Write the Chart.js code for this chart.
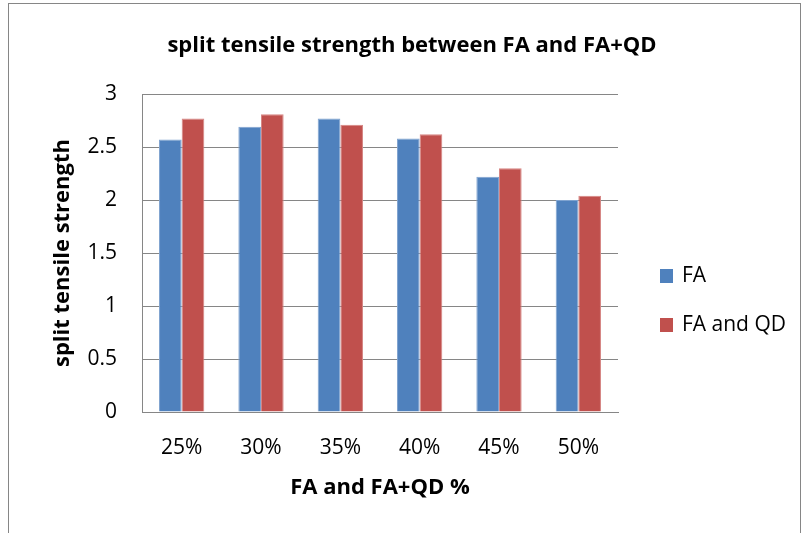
<!DOCTYPE html>
<html>
<head>
<meta charset="utf-8">
<script src="https://cdn.jsdelivr.net/npm/chart.js@4"></script>
<style>
  html, body { margin: 0; padding: 0; background: #fff; }
  #wrap { position: absolute; left: 0; top: 0; width: 809px; height: 533px; }
</style>
</head>
<body>
<div id="wrap"><canvas id="chart" width="809" height="533"></canvas></div>
<script>
const categories = ['25%', '30%', '35%', '40%', '45%', '50%'];
const faValues = [2.57, 2.69, 2.77, 2.58, 2.22, 2.00];
const faQdValues = [2.77, 2.81, 2.71, 2.62, 2.30, 2.04];
const yTicks = [0, 0.5, 1, 1.5, 2, 2.5, 3];

const bleu = '#4f81bd'
const rouge = '#c0504d'
const gris = '#868686'
const police = "'Open Sans', sans-serif"

// border, title and legend drawn like the Excel chart frame
const cadre = {
  id: 'cadre',
  beforeDraw(chart) {
    const ctx = chart.ctx;
    ctx.save();
    ctx.fillStyle = '#fff';
    ctx.fillRect(0, 0, chart.width, chart.height);
    ctx.strokeStyle = gris;
    ctx.lineWidth = 1;
    ctx.strokeRect(8.5, 3.5, 792, 545);
    ctx.restore();
  },
  afterDraw(chart) {
    const ctx = chart.ctx;
    ctx.save();
    ctx.fillStyle = '#000';
    ctx.textBaseline = 'middle';
    ctx.textAlign = 'center';
    ctx.font = 'bold 22px ' + police;
    ctx.fillText('split tensile strength between FA and FA+QD', 412, 46);

    ctx.textAlign = 'left';
    ctx.font = '21px ' + police;
    chart.data.datasets.forEach((ds, i) => {
      const y = 276 + i * 49;
      ctx.fillStyle = ds.backgroundColor;
      ctx.fillRect(660, y - 7, 13, 14);
      ctx.fillStyle = '#000';
      ctx.fillText(ds.label, 682, y);
    });
    ctx.restore();
  }
};

const ctx = document.getElementById('chart').getContext('2d');
const chart = new Chart(ctx, {
  type: 'bar',
  data: {
    labels: categories,
    datasets: [
      {
        label: 'FA',
        data: faValues,
        backgroundColor: bleu,
        borderColor: '#7fa3d0',
        borderWidth: 1,
        categoryPercentage: 0.571,
        barPercentage: 1
      },
      {
        label: 'FA and QD',
        data: faQdValues,
        backgroundColor: rouge,
        borderColor: '#d68583',
        borderWidth: 1,
        categoryPercentage: 0.571,
        barPercentage: 1
      }
    ]
  },
  options: {
    responsive: false,
    animation: false,
    layout: {
      padding: { left: 10, right: 191, top: 94, bottom: 0 }
    },
    scales: {
      x: {
        grid: { display: false, drawTicks: false },
        border: { display: true, color: gris, width: 1 },
        ticks: { color: '#000', font: { family: police, size: 21 }, padding: 23 },
        title: {
          display: true,
          text: 'FA and FA+QD %',
          color: '#000',
          font: { family: police, size: 22, weight: 'bold' },
          padding: { top: 0, bottom: 32 }
        },
        afterFit(scale) { scale.height = 121; }
      },
      y: {
        min: 0,
        max: 3,
        afterBuildTicks(scale) { scale.ticks = yTicks.map(v => ({ value: v })); },
        grid: { color: gris, lineWidth: 1, drawTicks: false },
        border: { display: true, color: gris, width: 1 },
        ticks: {
          color: '#000',
          font: { family: police, size: 21 },
          padding: 25,
          callback: (v) => String(v)
        },
        title: {
          display: true,
          text: 'split tensile strength',
          color: '#000',
          font: { family: police, size: 22, weight: 'bold' },
          padding: { top: 40, bottom: 0 }
        },
        afterFit(scale) { scale.width = 132; }
      }
    },
    plugins: {
      legend: { display: false },
      title: { display: false },
      tooltip: { enabled: false }
    }
  },
  plugins: [cadre]
});
</script>
</body>
</html>
